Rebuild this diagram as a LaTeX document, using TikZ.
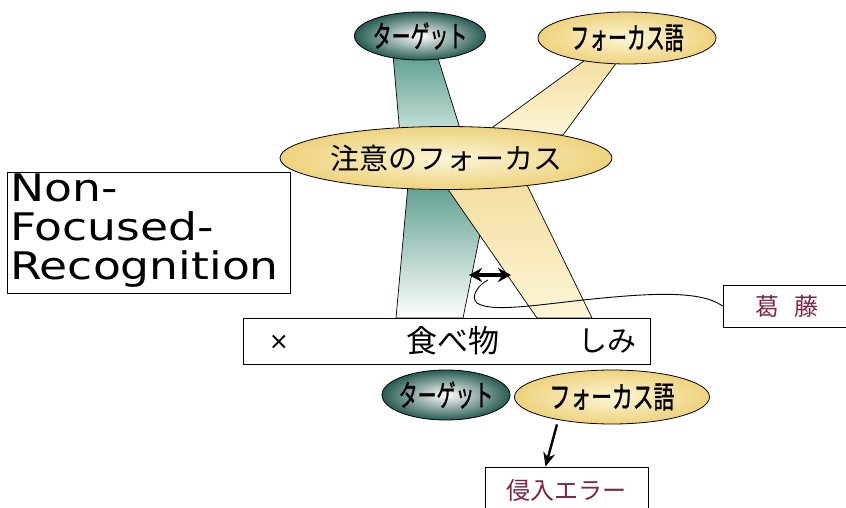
\documentclass[tikz,border=0pt]{standalone}
\usepackage{fontspec}
\setmainfont{DejaVu Sans}
\newfontfamily\jp{Noto Sans CJK JP}
\newfontfamily\jpb[FakeBold=1.5]{Noto Sans CJK JP}
\usetikzlibrary{shapes.geometric,arrows.meta,calc}
\definecolor{tealD}{RGB}{38,92,82}
\definecolor{tealM}{RGB}{95,160,145}
\definecolor{tealL}{RGB}{205,228,220}
\definecolor{yelD}{RGB}{238,210,125}
\definecolor{yelM}{RGB}{245,222,160}
\definecolor{yelL}{RGB}{252,246,215}
\definecolor{maroon}{RGB}{125,35,70}
\tikzset{
  tealell/.style={ellipse, draw=black, line width=0.8pt, inner sep=0pt, inner color=white, outer color=tealD},
  yelell/.style={ellipse, draw=black, line width=0.8pt, inner sep=0pt, inner color=yelL, outer color=yelD},
  lbl/.style={font=\jpb\fontsize{30}{30}\selectfont, xscale=0.63},
  boxx/.style={draw=black, line width=0.8pt, fill=white, inner sep=0pt},
  beam/.style={draw=black, line width=0.7pt},
}
\begin{document}
\begin{tikzpicture}[x=1pt,y=-1pt]
\useasboundingbox (0,0) rectangle (846,508);
% upper beams
\shade[beam, top color=tealM, bottom color=tealL] (393,55) -- (437,55) -- (462,135) -- (400,135) -- cycle;
\shade[beam, top color=yelM, bottom color=yelL] (588,58) -- (620,58) -- (563,135) -- (482,135) -- cycle;
% lower beams
\shade[beam, top color=tealM, bottom color=white] (408,185) -- (490,185) -- (463,318) -- (396,318) -- cycle;
\shade[beam, top color=yelM, bottom color=yelL] (445,185) -- (527,185) -- (592,318) -- (537,318) -- cycle;
% ellipses
\node[tealell, minimum width=131pt, minimum height=48pt] (tgtT) at (420,36) {};
\node[lbl] at (tgtT) {ターゲット};
\node[yelell, minimum width=178pt, minimum height=52pt] (focT) at (627,38) {};
\node[lbl] at (focT) {フォーカス語};
\node[yelell, minimum width=332pt, minimum height=63pt] (attn) at (446,158) {};
\node[font=\jp\fontsize{29}{29}\selectfont] at (attn) {注意のフォーカス};
% left box
\node[boxx, minimum width=283pt, minimum height=121pt] (nfr) at (148.5,232.5) {};
\node[anchor=north west, align=left, inner sep=0pt, xscale=1.2, font=\fontsize{38}{39}\selectfont] at (10,174) {Non-\\Focused-\\Recognition};
% bottom box
\node[boxx, minimum width=407pt, minimum height=46pt] (bb) at (446.5,341) {};
\node[font=\fontsize{24}{24}\selectfont] at (279,342) {×};
\node[font=\jp\fontsize{31}{31}\selectfont] at (453,341) {食べ物};
\node[font=\jp\fontsize{29}{29}\selectfont] at (607,341) {しみ};
% kattou box
\node[boxx, minimum width=123pt, minimum height=42pt] (kt) at (784.5,306) {};
\node[font=\jp\fontsize{24}{24}\selectfont, text=maroon] at (787,306) {葛\hspace{0.6em}藤};
% double arrow and curve
\draw[line width=3.2pt, {Stealth[length=13pt,width=14pt]}-{Stealth[length=13pt,width=14pt]}] (469,275) -- (511,275);
\draw[line width=0.9pt] (kt.west) .. controls (700,290) and (650,293) .. (583,300) .. controls (530,306) and (490,312) .. (477,303) .. controls (470,297) and (478,285) .. (488,280);
% bottom ellipses
\node[tealell, minimum width=128pt, minimum height=50pt] (tgtB) at (446,395) {};
\node[lbl] at (tgtB) {ターゲット};
\node[yelell, minimum width=195pt, minimum height=54pt] (focB) at (612,397) {};
\node[lbl, xscale=1.1] at (focB) {フォーカス語};
% error box
\node[boxx, minimum width=163pt, minimum height=52pt] (err) at (566.5,493) {};
\node[font=\jp\fontsize{24}{24}\selectfont, text=maroon] at (566,490) {侵入エラー};
\draw[line width=2.4pt, -{Stealth[length=14pt,width=12pt]}] ($(focB.south)+(-55,0)$) -- ($(err.north)+(-21,0)$);
\end{tikzpicture}
\end{document}
